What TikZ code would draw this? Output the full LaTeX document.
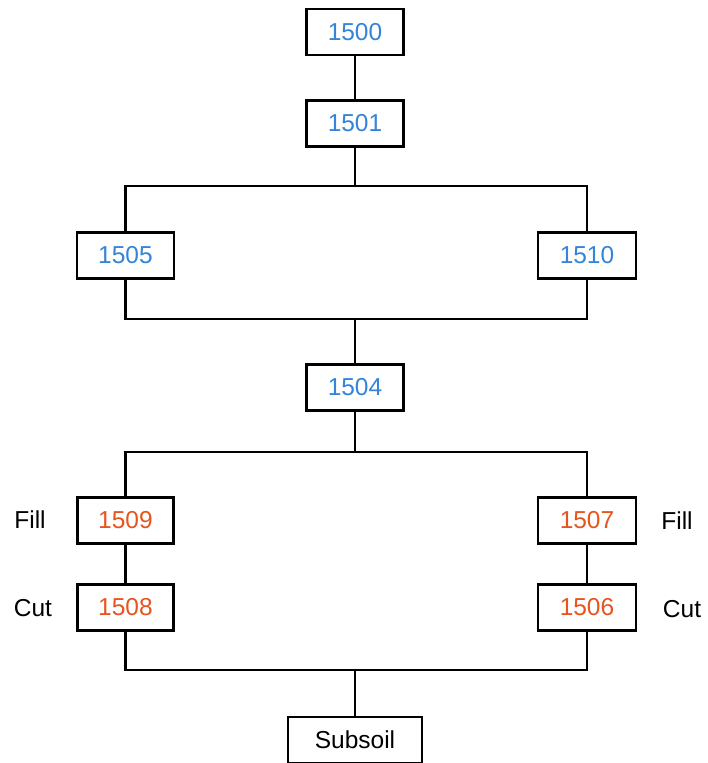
\documentclass[tikz,border=0pt]{standalone}
\usepackage{fontspec}
\setmainfont{Liberation Sans}
\definecolor{numblue}{RGB}{52,132,216}
\definecolor{numorange}{RGB}{232,84,30}
\begin{document}
\begin{tikzpicture}[x=1pt,y=-1pt,
  box/.style={draw=black,line width=2.2pt,fill=white,minimum width=97pt,minimum height=46pt,inner sep=0pt,font=\fontsize{24.5}{28}\selectfont},
  bluebox/.style={box,text=numblue},
  orangebox/.style={box,text=numorange},
  conn/.style={draw=black,line width=2.2pt},
  lbl/.style={inner sep=0pt,font=\fontsize{24.5}{28}\selectfont}]
\useasboundingbox (0,0) rectangle (707,763);
% junction coordinates
\coordinate (j1) at (355,186);
\coordinate (j2) at (355,319);
\coordinate (j3) at (355,452);
\coordinate (j4) at (355,670);
% nodes
\node[bluebox] (b1500) at (355,32) {1500};
\node[bluebox] (b1501) at (355,123.5) {1501};
\node[bluebox] (b1505) at (125.5,255.5) {1505};
\node[bluebox,minimum width=98pt] (b1510) at (587,255.5) {1510};
\node[bluebox] (b1504) at (355,387.5) {1504};
\node[orangebox,minimum width=96pt] (b1509) at (125.5,520.5) {1509};
\node[orangebox,minimum width=98pt] (b1507) at (587,520.5) {1507};
\node[orangebox,minimum width=96pt] (b1508) at (125.5,607.5) {1508};
\node[orangebox,minimum width=98pt] (b1506) at (587,607.5) {1506};
\node[box,minimum width=134pt] (sub) at (355,740) {Subsoil};
\node[lbl] (fillL) at (30,520) {Fill};
\node[lbl] (cutL) at (33,608) {Cut};
\node[lbl] (fillR) at (677,521) {Fill};
\node[lbl] (cutR) at (682,609) {Cut};
% connectors
\draw[conn] (b1500.south) -- (b1501.north);
\draw[conn] (b1501.south) -- (j1);
\draw[conn] (b1505.north) -- (b1505.north |- j1) -- (b1510.north |- j1) -- (b1510.north);
\draw[conn] (b1505.south) -- (b1505.south |- j2) -- (b1510.south |- j2) -- (b1510.south);
\draw[conn] (j2) -- (b1504.north);
\draw[conn] (b1504.south) -- (j3);
\draw[conn] (b1509.north) -- (b1509.north |- j3) -- (b1507.north |- j3) -- (b1507.north);
\draw[conn] (b1509.south) -- (b1508.north);
\draw[conn] (b1507.south) -- (b1506.north);
\draw[conn] (b1508.south) -- (b1508.south |- j4) -- (b1506.south |- j4) -- (b1506.south);
\draw[conn] (j4) -- (sub.north);
\end{tikzpicture}
\end{document}
